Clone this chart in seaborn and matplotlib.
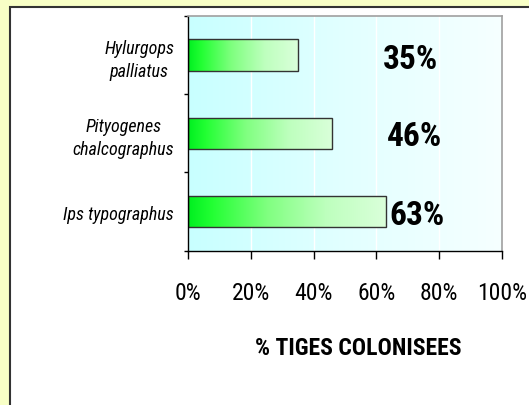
import matplotlib
matplotlib.use("Agg")
import numpy as np
import pandas as pd
import seaborn as sns
import matplotlib.pyplot as plt
from matplotlib.colors import LinearSegmentedColormap
from matplotlib.patches import Rectangle

# ---- data ----
species = ["Hylurgops\npalliatus", "Pityogenes\nchalcographus", "Ips typographus"]
pct = [35, 46, 63]
value_labels = ["35%", "46%", "63%"]
xtick_values = [0, 20, 40, 60, 80, 100]
xtick_labels = ["0%", "20%", "40%", "60%", "80%", "100%"]
xlabel = "% TIGES COLONISEES"

# label placement (positions, not data)
label_x = [70.8, 72.0, 73.0]
label_dy = [0.05, 0.03, 0.04]

sns.set_style("white")
plt.rcParams["font.family"] = ["Roboto Condensed", "Liberation Sans", "DejaVu Sans"]

W, H = 529, 406
fig = plt.figure(figsize=(W / 100, H / 100), dpi=100, facecolor="#F8FFC6")

panel = Rectangle((10 / W, -0.05), 1.2, 1 - 7.5 / H + 0.05, transform=fig.transFigure,
                  facecolor="white", edgecolor="#333333", lw=1.5, zorder=-5)
fig.patches.append(panel)

ax_l, ax_r, ax_t, ax_b = 188, 502, 16.7, 251.7
ax = fig.add_axes([ax_l / W, 1 - ax_b / H, (ax_r - ax_l) / W, (ax_b - ax_t) / H])
ax.set_zorder(1)

df = pd.DataFrame({"species": species, "pct": pct})
sns.barplot(data=df, x="pct", y="species", orient="h", width=0.4, ax=ax,
            color="white", saturation=1, edgecolor="#333333", linewidth=1.0)

# axes background gradient
bg_cmap = LinearSegmentedColormap.from_list("bg", ["#C8FFFF", "#E2FFFF", "#F6FFFF"])
grad = np.linspace(0, 1, 256).reshape(1, -1)
ax.imshow(grad, cmap=bg_cmap, extent=[0, 100, 2.5, -0.5], aspect="auto", zorder=0)

# bar gradients
bar_cmap = LinearSegmentedColormap.from_list(
    "bar", [(0, "#00F020"), (0.12, "#22FF33"), (0.4, "#80FF80"), (0.7, "#BEFFBE"), (1, "#DAFFDA")])
for p in list(ax.patches):
    x0, y0 = p.get_xy()
    w, h = p.get_width(), p.get_height()
    im = ax.imshow(grad, cmap=bar_cmap, extent=[x0, x0 + w, y0 + h, y0], aspect="auto", zorder=1.5)
    im.set_clip_path(p)
    p.set_facecolor("none")
    p.set_zorder(2)

ax.set_xlim(0, 100)
ax.set_ylim(2.5, -0.5)
ax.set_axisbelow(True)
ax.grid(axis="x", color="white", lw=1.0)
ax.grid(axis="y", visible=False)

# value labels
for i, (lx, dy, t) in enumerate(zip(label_x, label_dy, value_labels)):
    ax.text(lx, i + dy, t, ha="center", va="center", fontsize=24,
            fontweight="bold", color="black", zorder=3)

# x axis
ax.set_xticks(xtick_values)
ax.set_xticklabels(xtick_labels, fontsize=17, color="black")
ax.tick_params(axis="x", bottom=True, direction="out", length=6, width=1, pad=16, color="black")

# y axis: ticks between categories, labels at categories
ax.set_yticks([-0.5, 0.5, 1.5, 2.5])
ax.set_yticklabels([])
ax.set_yticks([0, 1, 2], minor=True)
ax.set_yticklabels(species, minor=True, fontsize=13, style="italic", color="black")
for t in ax.get_yticklabels(minor=True):
    t.set_multialignment("center")
    t.set_linespacing(1.35)
ax.tick_params(axis="y", which="major", left=True, direction="out", length=3, width=1, color="black")
ax.tick_params(axis="y", which="minor", left=False, length=0, pad=10)
ax.set_ylabel("")

ax.set_xlabel(xlabel, fontsize=17, fontweight="bold", color="black", va="center")
ax.xaxis.set_label_coords(0.541, -0.412)

for s in ["left", "bottom"]:
    ax.spines[s].set_color("black")
    ax.spines[s].set_linewidth(1.0)
for s in ["top", "right"]:
    ax.spines[s].set_color("#A0A0A0")
    ax.spines[s].set_linewidth(1.2)

fig.savefig("out.png", dpi=100, facecolor=fig.get_facecolor())
